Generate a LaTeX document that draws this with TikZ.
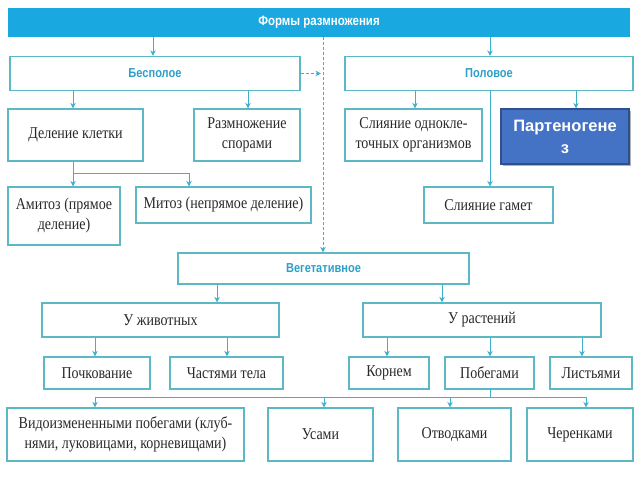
\documentclass[tikz,border=0pt]{standalone}
\usepackage{fontspec}
\setmainfont{Liberation Serif}[FakeStretch=0.85]
\newfontfamily\hdrfont{Liberation Sans}[FakeStretch=0.85]
\newfontfamily\pfont{Liberation Sans}
\usetikzlibrary{arrows.meta,shadows}
\definecolor{boxc}{HTML}{5BB8C4}
\definecolor{arrc}{HTML}{3DB0CC}
\definecolor{hdrc}{HTML}{2E9FC9}
\definecolor{txt}{HTML}{2A2A2A}
\definecolor{bannerc}{HTML}{19A8E0}
\definecolor{pfill}{HTML}{4472C4}
\definecolor{pdraw}{HTML}{2F4F8F}
\begin{document}
\begin{tikzpicture}[x=1pt,y=-1pt,
  box/.style={draw=boxc, line width=1.3pt, fill=white, rectangle, inner sep=2pt,
    align=center, text=txt, font=\fontsize{16.5}{20}\selectfont},
  hdr/.style={box, text=hdrc, font=\hdrfont\bfseries\fontsize{13}{15}\selectfont},
  banner/.style={rectangle, fill=bannerc, text=white, align=center,
    font=\hdrfont\bfseries\fontsize{13.5}{15}\selectfont},
  pbox/.style={rectangle, fill=pfill, draw=pdraw, line width=1.2pt, text=white,
    align=center, font=\pfont\bfseries\fontsize{16.5}{22}\selectfont,
    drop shadow={shadow xshift=1.5pt, shadow yshift=-1.5pt, opacity=0.6}},
  arr/.style={draw=arrc, line width=1pt, -{Stealth[length=5.5pt,width=5.5pt]}},
  ln/.style={draw=arrc, line width=1pt},
  dsh/.style={dash pattern=on 3pt off 2pt}]
\useasboundingbox[fill=white] (0,0) rectangle (640,480);

% level 0
\node[banner, minimum width=622pt, minimum height=29pt] (top) at (319,22.5) {Формы размножения};
% level 1
\node[hdr, minimum width=290pt, minimum height=34pt] (besp) at (155,73.5) {Бесполое};
\node[hdr, minimum width=288pt, minimum height=34pt] (polov) at (489,73.5) {Половое};
% level 2
\node[box, minimum width=135pt, minimum height=52pt] (delen) at (75.5,135) {Деление клетки};
\node[box, minimum width=106pt, minimum height=52pt] (spory) at (247,135) {Размножение\\спорами};
\node[box, minimum width=137pt, minimum height=52pt] (sliyan) at (413.5,135) {Слияние однокле-\\точных организмов};
\node[pbox, minimum width=128pt, minimum height=55pt] (parten) at (565,136.5) {Партеногене\\з};
% level 3
\node[box, minimum width=112pt, minimum height=58pt] (amitoz) at (64,216) {Амитоз (прямое\\деление)};
\node[box, minimum width=175pt, minimum height=36pt] (mitoz) at (223.5,205) {Митоз (непрямое деление)};
\node[box, minimum width=129pt, minimum height=36pt] (gamet) at (488.5,205) {Слияние гамет};
% vegetative
\node[hdr, minimum width=291pt, minimum height=31pt] (veget) at (323.5,268.5) {Вегетативное};
\node[box, minimum width=237pt, minimum height=34pt] (zhiv) at (160.5,320) {У животных};
\node[box, minimum width=238pt, minimum height=34pt] (rast) at (482,320) {У растений};
\node[box, minimum width=106pt, minimum height=32pt] (pochk) at (97,373) {Почкование};
\node[box, minimum width=113pt, minimum height=32pt] (chast) at (226.5,373) {Частями тела};
\node[box, minimum width=80pt, minimum height=32pt] (korn) at (389,373) {Корнем};
\node[box, minimum width=89pt, minimum height=32pt] (pobeg) at (489.5,373) {Побегами};
\node[box, minimum width=82pt, minimum height=32pt] (list) at (591,373) {Листьями};
\node[box, minimum width=237pt, minimum height=53pt] (vidoiz) at (125.5,434.5) {Видоизмененными побегами (клуб-\\нями, луковицами, корневищами)};
\node[box, minimum width=105pt, minimum height=53pt] (usami) at (320.5,434.5) {Усами};
\node[box, minimum width=113pt, minimum height=53pt] (otvod) at (454.5,434.5) {Отводками};
\node[box, minimum width=106pt, minimum height=53pt] (cheren) at (580,434.5) {Черенками};

% connectors
\draw[arr] (top.south -| 153,0) -- (besp.north -| 153,0);
\draw[arr] (top.south -| 490,0) -- (polov.north -| 490,0);
\draw[arr, dsh] (top.south -| 323,0) -- (veget.north -| 323,0);
\coordinate (dj) at (321,73.5);
\draw[arr, dsh] (besp.east) -- (dj);

\draw[arr] (besp.south -| 73,0) -- (delen.north -| 73,0);
\draw[arr] (besp.south -| 248,0) -- (spory.north -| 248,0);
\draw[arr] (polov.south -| 415,0) -- (sliyan.north -| 415,0);
\draw[arr] (polov.south -| 576,0) -- (parten.north -| 576,0);
\draw[arr] (polov.south -| 490,0) -- (gamet.north -| 490,0);

\coordinate (b1) at (73,173);
\coordinate (b2) at (189,173);
\draw[ln] (delen.south -| b1) -- (b1) -- (b2);
\draw[arr] (b1) -- (amitoz.north -| b1);
\draw[arr] (b2) -- (mitoz.north -| b2);

\draw[arr] (veget.south -| 217,0) -- (zhiv.north -| 217,0);
\draw[arr] (veget.south -| 442,0) -- (rast.north -| 442,0);
\draw[arr] (zhiv.south -| 95,0) -- (pochk.north -| 95,0);
\draw[arr] (zhiv.south -| 227,0) -- (chast.north -| 227,0);
\draw[arr] (rast.south -| 387,0) -- (korn.north -| 387,0);
\draw[arr] (rast.south -| 490,0) -- (pobeg.north -| 490,0);
\draw[arr] (rast.south -| 582,0) -- (list.north -| 582,0);

\coordinate (c0) at (490,397);
\coordinate (c1) at (95,397);
\coordinate (c2) at (324,397);
\coordinate (c3) at (450,397);
\coordinate (c4) at (586,397);
\draw[ln] (pobeg.south -| c0) -- (c0);
\draw[ln] (c1) -- (c4);
\draw[arr] (c1) -- (vidoiz.north -| c1);
\draw[arr] (c2) -- (usami.north -| c2);
\draw[arr] (c3) -- (otvod.north -| c3);
\draw[arr] (c4) -- (cheren.north -| c4);
\end{tikzpicture}
\end{document}
